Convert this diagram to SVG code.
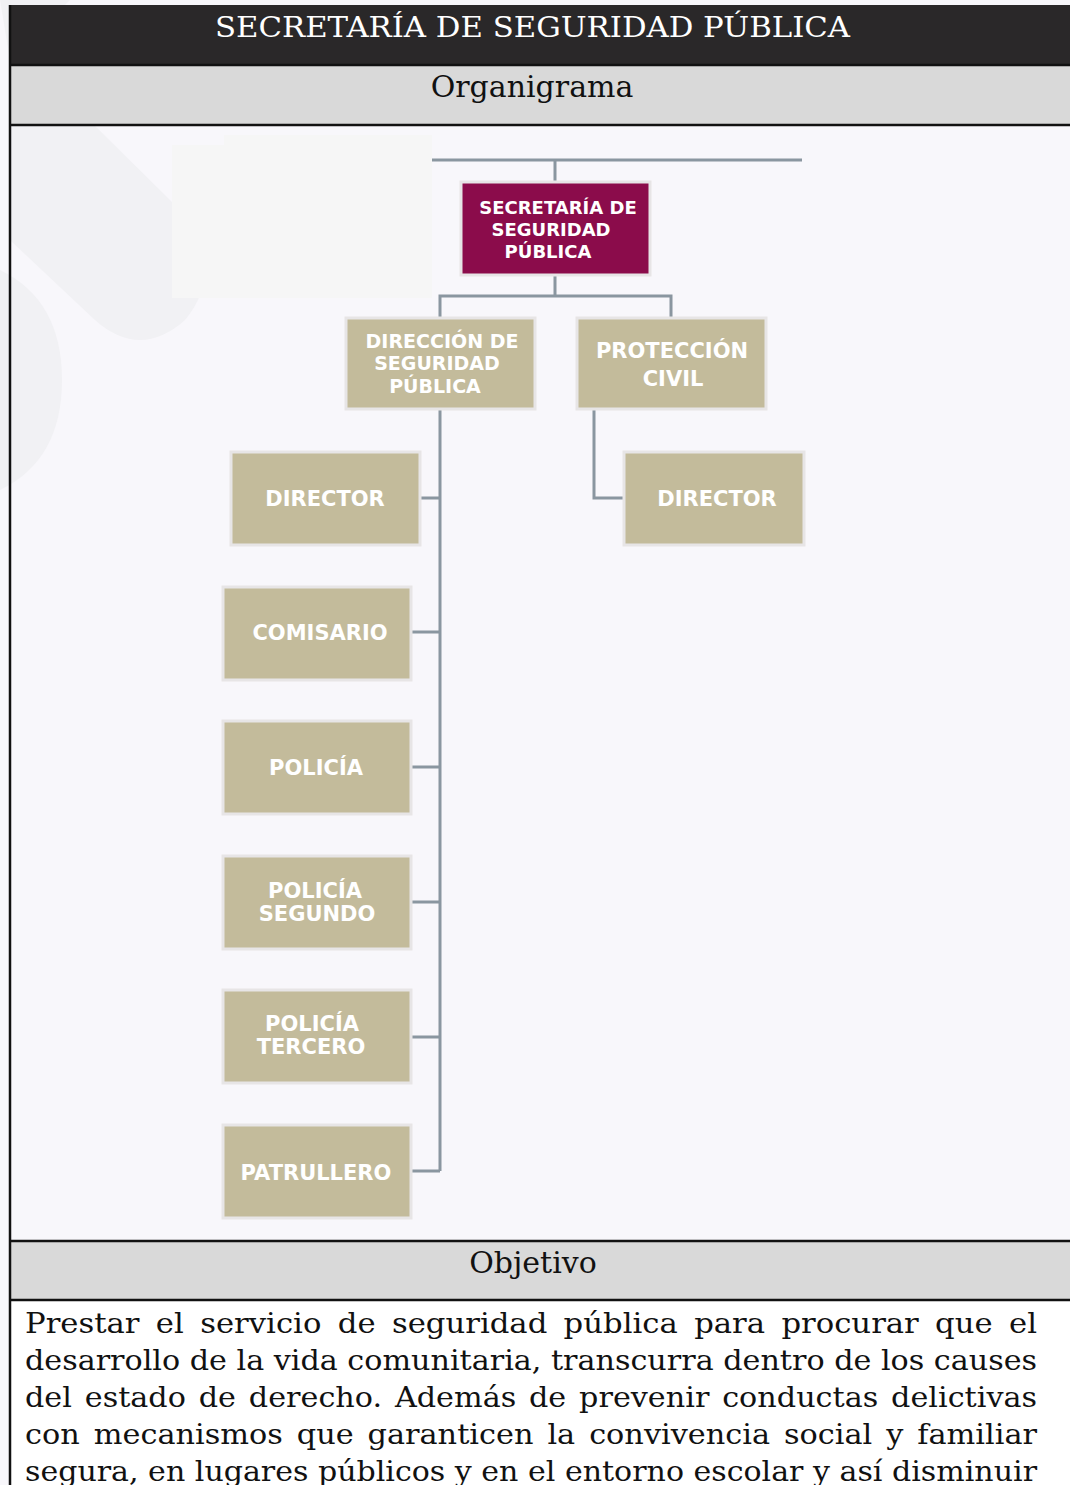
<svg xmlns="http://www.w3.org/2000/svg" width="1070" height="1485" viewBox="0 0 1070 1485">
<style>
.band{fill:#d9d9d9}
.rule{stroke:#111;stroke-width:2.5;fill:none}
.title{font-family:"DejaVu Serif","Liberation Serif",serif;fill:#fff;font-size:28px}
.sub{font-family:"DejaVu Serif","Liberation Serif",serif;fill:#111;font-size:30px}
.body{font-family:"DejaVu Serif","Liberation Serif",serif;fill:#111;font-size:28px}
.box{fill:#c3bb9b;stroke:#e7e5e6;stroke-width:3}
.boxm{fill:#8b0c4b;stroke:#e7e5e6;stroke-width:3}
.lbl{font-family:"DejaVu Sans","Open Sans",sans-serif;font-weight:700;fill:#fff;font-size:21px;text-anchor:middle}
.conn{stroke:#8a96a0;stroke-width:3;fill:none}
.blob{fill:#f1f1f4}
</style>
<rect x="0" y="0" width="1070" height="1485" fill="#f8f7fb"/>
<path class="blob" d="M0 0 H70 L10 60 Z"/>
<path class="blob" d="M10 126 H95 L175 205 Q230 265 185 320 Q140 360 95 320 L10 240 Z"/>
<path class="blob" d="M0 270 Q62 300 62 380 Q62 460 0 490 Z"/>
<rect x="172" y="145" width="260" height="153" fill="#f6f6f6"/>
<rect x="224" y="135" width="208" height="10" fill="#f6f6f6"/>
<g id="frame">
<rect x="10" y="5" width="1060" height="60" fill="#2a2829"/>
<rect class="band" x="10" y="65" width="1060" height="60"/>
<rect class="band" x="10" y="1241" width="1060" height="59"/>
<rect x="10" y="1300" width="1060" height="185" fill="#fff"/>
<path class="rule" d="M10 65 H1070 M10 125 H1070 M10 1241 H1070 M10 1300 H1070 M10 5 V1485"/>
<text class="title" x="215" y="37" textLength="635" lengthAdjust="spacingAndGlyphs">SECRETARÍA DE SEGURIDAD PÚBLICA</text>
<text class="sub" x="532" y="97" text-anchor="middle">Organigrama</text>
<text class="sub" x="533" y="1273" text-anchor="middle">Objetivo</text>
<text class="body" x="25" y="1333" textLength="1012" lengthAdjust="spacingAndGlyphs" word-spacing="6">Prestar el servicio de seguridad pública para procurar que el</text>
<text class="body" x="25" y="1370" textLength="1012" lengthAdjust="spacingAndGlyphs">desarrollo de la vida comunitaria, transcurra dentro de los causes</text>
<text class="body" x="25" y="1407" textLength="1012" lengthAdjust="spacingAndGlyphs" word-spacing="3">del estado de derecho. Además de prevenir conductas delictivas</text>
<text class="body" x="25" y="1444" textLength="1012" lengthAdjust="spacingAndGlyphs" word-spacing="4">con mecanismos que garanticen la convivencia social y familiar</text>
<text class="body" x="25" y="1481" textLength="1012" lengthAdjust="spacingAndGlyphs">segura, en lugares públicos y en el entorno escolar y así disminuir</text>
</g>
<g id="connectors">
<path class="conn" d="M432 160 H802 M555 160 V182"/>
<path class="conn" d="M555 275 V296 M440 318 V296 H671 V318"/>
<path class="conn" d="M440 409 V1171"/>
<path class="conn" d="M420 498 H440 M411 632 H440 M411 767 H440 M411 902 H440 M411 1037 H440 M411 1171 H440"/>
<path class="conn" d="M594 409 V498 H624"/>
</g>
<g id="n-secretaria">
<rect class="boxm" x="461" y="182" width="189" height="93"/>
<text class="lbl" style="font-size:18px" x="558" y="214">SECRETARÍA DE</text>
<text class="lbl" style="font-size:18px" x="551" y="236">SEGURIDAD</text>
<text class="lbl" style="font-size:18px" x="548" y="258">PÚBLICA</text>
</g>
<g id="n-dsp">
<rect class="box" x="346" y="318" width="189" height="91"/>
<text class="lbl" style="font-size:19px" x="442" y="348">DIRECCIÓN DE</text>
<text class="lbl" style="font-size:19px" x="437" y="370">SEGURIDAD</text>
<text class="lbl" style="font-size:19px" x="435" y="393">PÚBLICA</text>
</g>
<g id="n-pc">
<rect class="box" x="577" y="318" width="189" height="91"/>
<text class="lbl" x="672" y="358">PROTECCIÓN</text>
<text class="lbl" x="673" y="386">CIVIL</text>
</g>
<g id="n-director1">
<rect class="box" x="231" y="452" width="189" height="93"/>
<text class="lbl" x="325" y="506">DIRECTOR</text>
</g>
<g id="n-director2">
<rect class="box" x="624" y="452" width="180" height="93"/>
<text class="lbl" x="717" y="506">DIRECTOR</text>
</g>
<g id="n-comisario">
<rect class="box" x="223" y="587" width="188" height="93"/>
<text class="lbl" x="320" y="640">COMISARIO</text>
</g>
<g id="n-policia">
<rect class="box" x="223" y="721" width="188" height="93"/>
<text class="lbl" x="316" y="775">POLICÍA</text>
</g>
<g id="n-policia2">
<rect class="box" x="223" y="856" width="188" height="93"/>
<text class="lbl" x="315" y="898">POLICÍA</text>
<text class="lbl" x="317" y="921">SEGUNDO</text>
</g>
<g id="n-policia3">
<rect class="box" x="223" y="990" width="188" height="93"/>
<text class="lbl" x="312" y="1031">POLICÍA</text>
<text class="lbl" x="311" y="1054">TERCERO</text>
</g>
<g id="n-patrullero">
<rect class="box" x="223" y="1125" width="188" height="93"/>
<text class="lbl" x="316" y="1180">PATRULLERO</text>
</g>
</svg>
